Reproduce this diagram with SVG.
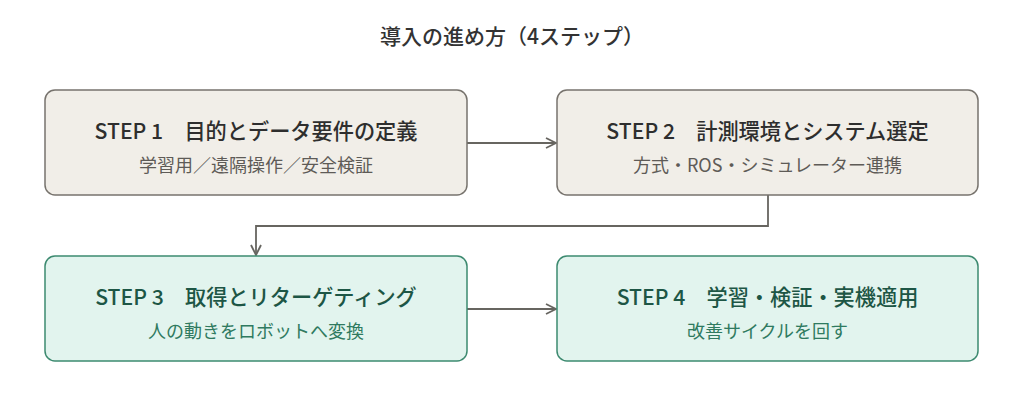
<svg xmlns="http://www.w3.org/2000/svg" width="1024" height="407" viewBox="0 0 1024 407">
<style>
text{font-family:"Noto Sans CJK JP","Noto Sans",sans-serif;text-anchor:middle}
.h{font-size:21px;font-weight:500;fill:#333}
.t{font-size:21.2px;font-weight:500}
.s{font-size:18px;font-weight:400}
.b rect{fill:#f1eee8;stroke:#77736d;stroke-width:1.5}
.b .t{fill:#2e2e2e}.b .s{fill:#5e5b57}
.g rect{fill:#e2f4ee;stroke:#3d8a70;stroke-width:1.5}
.g .t{fill:#1d5645}.g .s{fill:#2f7a60}
.c{fill:none;stroke:#676560;stroke-width:1.8}
</style>
<defs>
<marker id="a" viewBox="0 0 12 12" refX="11" refY="6" markerWidth="12" markerHeight="12" markerUnits="userSpaceOnUse" orient="auto">
<path d="M1,1 L11,6 L1,11" fill="none" stroke="#676560" stroke-width="1.8"/>
</marker>
</defs>
<rect width="1024" height="407" fill="#ffffff"/>
<text class="h" x="512" y="44">導入の進め方（4ステップ）</text>
<g id="connectors">
<path class="c" d="M467,143 H556" marker-end="url(#a)"/>
<path class="c" d="M768,195 V226 H256 V255" marker-end="url(#a)"/>
<path class="c" d="M467,309 H556" marker-end="url(#a)"/>
</g>
<g id="step1" class="b">
<rect x="45" y="90" width="422" height="105" rx="10"/>
<text class="t" x="256" y="139">STEP 1　目的とデータ要件の定義</text>
<text class="s" x="256" y="172">学習用／遠隔操作／安全検証</text>
</g>
<g id="step2" class="b">
<rect x="557" y="90" width="421" height="105" rx="10"/>
<text class="t" x="767.5" y="139">STEP 2　計測環境とシステム選定</text>
<text class="s" x="767.5" y="172">方式・ROS・シミュレーター連携</text>
</g>
<g id="step3" class="g">
<rect x="45" y="256" width="422" height="105" rx="10"/>
<text class="t" x="256" y="305">STEP 3　取得とリターゲティング</text>
<text class="s" x="256" y="338">人の動きをロボットへ変換</text>
</g>
<g id="step4" class="g">
<rect x="557" y="256" width="421" height="105" rx="10"/>
<text class="t" x="767.5" y="305">STEP 4　学習・検証・実機適用</text>
<text class="s" x="767.5" y="338">改善サイクルを回す</text>
</g>
</svg>
